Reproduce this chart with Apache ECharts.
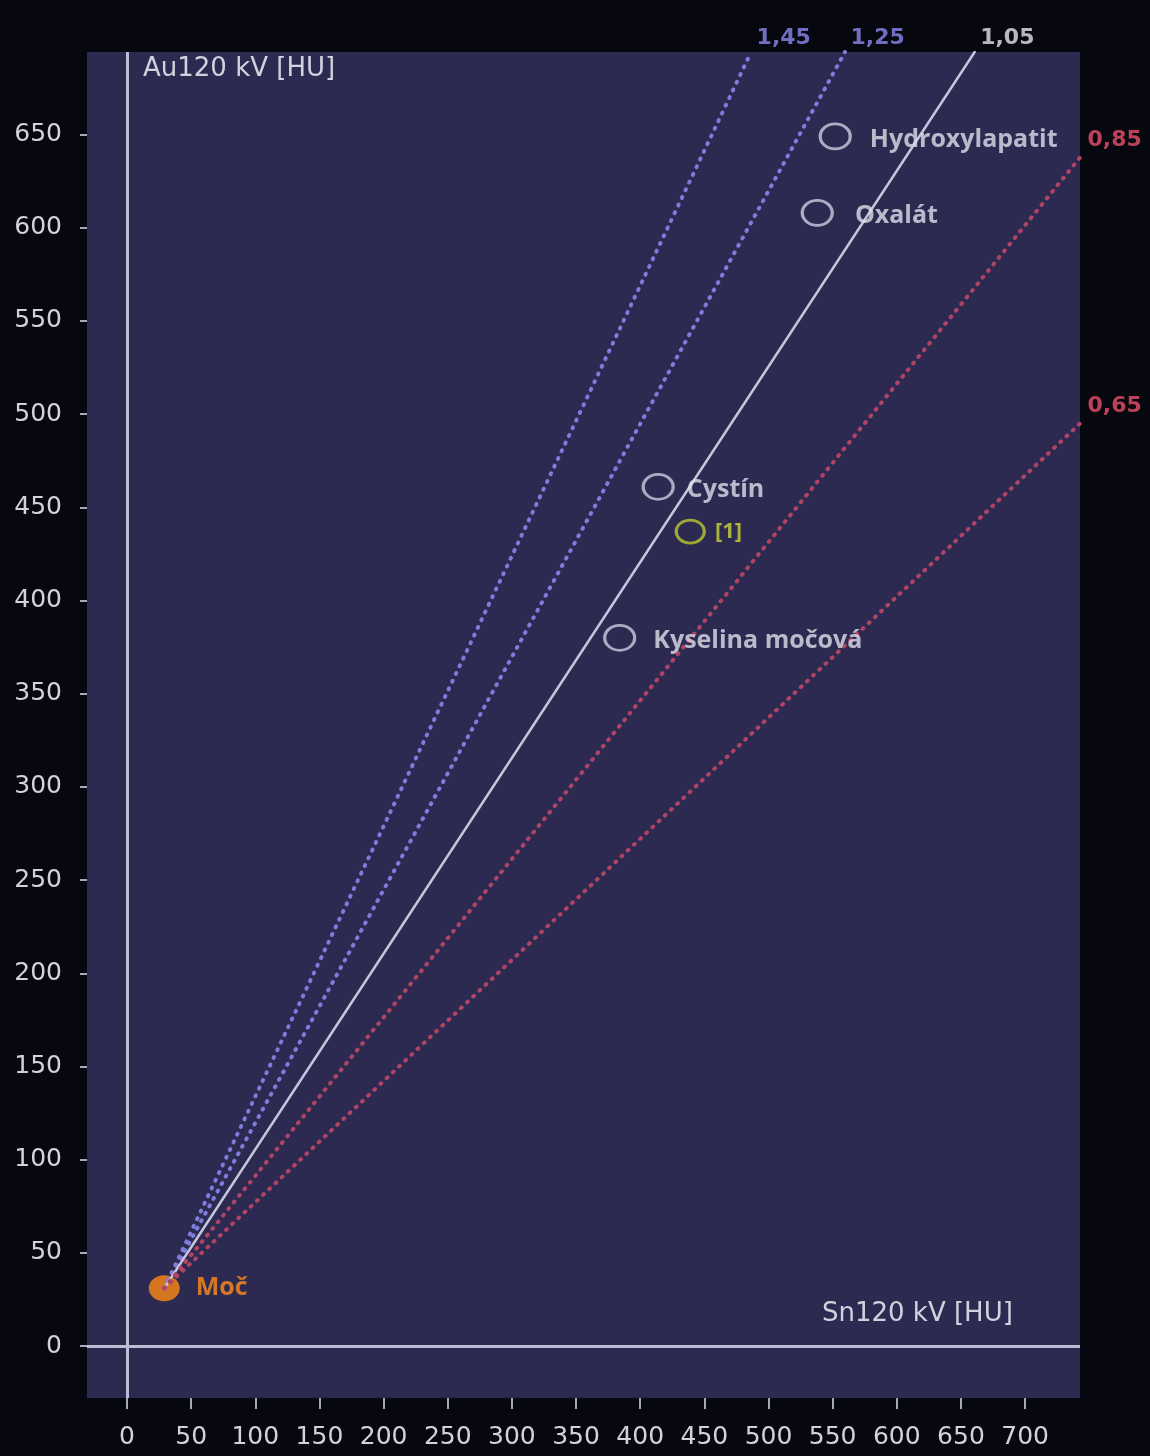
<!DOCTYPE html>
<html>
<head>
<meta charset="utf-8">
<title>Sn120 kV vs Au120 kV</title>
<script src="https://cdn.jsdelivr.net/npm/echarts@6/dist/echarts.min.js"></script>
<style>
  html, body { margin: 0; padding: 0; background: #07080f; }
  #chart { width: 1150px; height: 1456px; }
</style>
</head>
<body>
<div id="chart"></div>
<script>
// Dual-energy ratio lines (Au/Sn attenuation ratios) fanning out from urine
const ratioValues = [1.45, 1.25, 1.05, 0.85, 0.65];
const ratioLabels = ['1,45', '1,25', '1,05', '0,85', '0,65'];

// Urine reference point [Sn120, Au120] in HU
const urineName = 'Moč';
const urinePoint = [29, 31];

// Stone types [Sn120, Au120] in HU
const stoneNames = ['Hydroxylapatit', 'Oxalát', 'Cystín', 'Kyselina močová'];
const stoneSn = [552, 538, 414, 384];
const stoneAu = [649, 608, 461, 380];

// Measured sample
const sampleName = '[1]';
const samplePoint = [439, 437];

// Axis tick values
const xTickValues = [0, 50, 100, 150, 200, 250, 300, 350, 400, 450, 500, 550, 600, 650, 700];
const yTickValues = [0, 50, 100, 150, 200, 250, 300, 350, 400, 450, 500, 550, 600, 650];

// Visible axis extents
const X_MIN = -31.2, X_MAX = 742.8;
const Y_MIN = -27.9, Y_MAX = 694.3;

// Styles
const TEXT = '#d2d2de';
const LABEL_TEXT = '#dedeea';
const rayStyles = [
  { color: '#7e7cdc', type: [1, 7.5], width: 4, labelColor: '#8a88ec' },
  { color: '#7e7cdc', type: [1, 7.5], width: 4, labelColor: '#8a88ec' },
  { color: '#c4c4da', type: 'solid', width: 2.5, labelColor: '#e4e4f0' },
  { color: '#b04464', type: [1, 7.5], width: 4, labelColor: '#ea506c' },
  { color: '#b04464', type: [1, 7.5], width: 4, labelColor: '#ea506c' }
];
const stoneLabelDistance = [18, 21, 12, 17];

// Where a ray from the urine point leaves the plotting area
function rayEnd(k) {
  const yRight = urinePoint[1] + k * (X_MAX - urinePoint[0]);
  if (yRight <= Y_MAX) return [X_MAX, yRight];
  return [urinePoint[0] + (Y_MAX - urinePoint[1]) / k, Y_MAX];
}

const series = [];

// Zero axes drawn as reference lines
series.push({
  type: 'line',
  data: [],
  silent: true,
  markLine: {
    silent: true,
    symbol: ['none', 'none'],
    label: { show: false },
    lineStyle: { color: '#bcbcd2', width: 3, type: 'solid' },
    data: [{ xAxis: 0 }, { yAxis: 0 }]
  },
  z: 1
});

// Urine point
series.push({
  type: 'scatter',
  name: urineName,
  data: [urinePoint],
  symbol: 'circle',
  symbolSize: [31, 26],
  itemStyle: { color: '#ff8a14' },
  label: {
    show: true,
    position: 'right',
    distance: 16,
    formatter: urineName,
    color: '#ff8c1e',
    fontFamily: 'Open Sans',
    fontWeight: 'bold',
    fontSize: 25
  },
  silent: true,
  z: 2
});

// Ratio rays
ratioValues.forEach(function (k, i) {
  const st = rayStyles[i];
  series.push({
    type: 'line',
    data: [urinePoint, rayEnd(k)],
    showSymbol: false,
    symbol: 'none',
    silent: true,
    lineStyle: { color: st.color, width: st.width, type: st.type, cap: 'round' },
    z: 3
  });
});

// Ratio labels at the ray ends
series.push({
  type: 'scatter',
  clip: false,
  silent: true,
  symbolSize: 1,
  itemStyle: { color: 'rgba(0,0,0,0)' },
  data: ratioValues.map(function (k, i) {
    const end = rayEnd(k);
    const atTop = end[1] >= Y_MAX - 1e-6;
    return {
      value: end,
      label: {
        show: true,
        formatter: ratioLabels[i],
        position: atTop ? [6, -13] : [8, -17],
        align: 'left',
        verticalAlign: 'middle',
        color: rayStyles[i].labelColor,
        fontFamily: 'DejaVu Sans',
        fontWeight: 'bold',
        fontSize: 22
      }
    };
  }),
  z: 4
});

// Stone rings
series.push({
  type: 'scatter',
  silent: true,
  symbol: 'circle',
  symbolSize: [30, 25],
  itemStyle: { color: 'rgba(0,0,0,0)', borderColor: '#ccccdf', borderWidth: 3 },
  data: stoneNames.map(function (n, i) {
    return {
      name: n,
      value: [stoneSn[i], stoneAu[i]],
      label: { distance: stoneLabelDistance[i] }
    };
  }),
  label: {
    show: true,
    position: 'right',
    formatter: '{b}',
    color: LABEL_TEXT,
    fontFamily: 'Open Sans',
    fontWeight: 'bold',
    fontSize: 25,
    offset: [0, 3]
  },
  z: 5
});

// Measured sample
series.push({
  type: 'scatter',
  silent: true,
  symbol: 'circle',
  symbolSize: [28, 23],
  itemStyle: { color: 'rgba(0,0,0,0)', borderColor: '#bcc62e', borderWidth: 3 },
  data: [{ name: sampleName, value: samplePoint }],
  label: {
    show: true,
    position: 'right',
    distance: 9,
    formatter: '{b}',
    color: '#ccd43a',
    fontFamily: 'Open Sans',
    fontWeight: 'bold',
    fontSize: 22
  },
  z: 5
});

const chart = echarts.init(document.getElementById('chart'), null, { renderer: 'canvas' });
chart.setOption({
  animation: false,
  backgroundColor: '#07080f',
  grid: {
    left: 87, right: 70, top: 52, bottom: 58,
    show: true,
    backgroundColor: '#2c2a51',
    borderWidth: 0
  },
  xAxis: {
    type: 'value',
    min: X_MIN,
    max: X_MAX,
    axisLine: { show: false, onZero: false },
    splitLine: { show: false },
    axisTick: {
      show: true,
      length: 11,
      customValues: xTickValues,
      lineStyle: { color: '#a8a8bc', width: 2 }
    },
    axisLabel: {
      customValues: xTickValues,
      margin: 27,
      color: TEXT,
      fontFamily: 'DejaVu Sans',
      fontSize: 25
    }
  },
  yAxis: {
    type: 'value',
    min: Y_MIN,
    max: Y_MAX,
    axisLine: { show: false, onZero: false },
    splitLine: { show: false },
    axisTick: {
      show: true,
      length: 7,
      customValues: yTickValues,
      lineStyle: { color: '#a8a8bc', width: 2 }
    },
    axisLabel: {
      customValues: yTickValues,
      margin: 25,
      color: TEXT,
      fontFamily: 'DejaVu Sans',
      fontSize: 25
    }
  },
  graphic: [
    {
      type: 'text', left: 143, top: 56, silent: true,
      style: { text: 'Au120 kV [HU]', fill: TEXT, font: '26px "DejaVu Sans"' }
    },
    {
      type: 'text', left: 822, top: 1301, silent: true,
      style: { text: 'Sn120 kV [HU]', fill: TEXT, font: '26px "DejaVu Sans"' }
    }
  ],
  series: series
});
</script>
</body>
</html>
